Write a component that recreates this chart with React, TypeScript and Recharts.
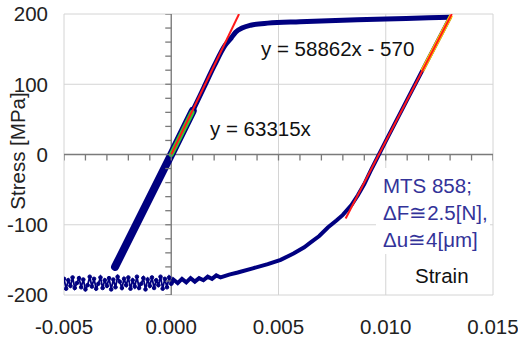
import React from 'react';
import { ComposedChart, Line, Scatter, XAxis, YAxis, CartesianGrid, ReferenceLine, Label } from 'recharts';

const xTicks = [-0.005, 0, 0.005, 0.01, 0.015];
const yTicks = [-200, -100, 0, 100, 200];
const xMinorTicks = [-0.005, -0.004, -0.003, -0.002, -0.001, 0, 0.001, 0.002, 0.003, 0.004, 0.005, 0.006, 0.007, 0.008, 0.009, 0.01, 0.011, 0.012, 0.013, 0.014, 0.015];
const yMinorTicks = [-200, -180, -160, -140, -120, -100, -80, -60, -40, -20, 0, 20, 40, 60, 80, 100, 120, 140, 160, 180, 200];

// loading branch
const loadStrain = [0, 0.0005, 0.001, 0.0015, 0.002, 0.0025, 0.0028, 0.003, 0.0033, 0.0037, 0.0045, 0.006, 0.008, 0.01, 0.012, 0.013];
const loadStress = [0, 31, 62, 94, 126, 155, 166, 174, 180, 184, 187, 189, 191, 193, 194.5, 195.5];

// thick initial / compression band
const bandStrain = [-0.00262, 0, 0.001];
const bandStress = [-160, 0, 62];

// unloading branch
const unloadStrain = [0.013, 0.012, 0.011, 0.01, 0.0095, 0.0093, 0.009, 0.0087, 0.0084, 0.008, 0.0077, 0.0073, 0.0069, 0.0065, 0.0062, 0.0057, 0.0051, 0.0045, 0.0038, 0.0031, 0.0027, 0.0023, 0.0021, 0.0019, 0.0017, 0.0015, 0.0013, 0.0011, 0.0009, 0.0007, 0.0005, 0.0003, 0.0001, 0];
const unloadStress = [195.5, 137, 78, 19, -11, -23, -42, -58, -72, -86, -94, -104, -116, -125, -132, -141, -150, -156, -162, -168, -171, -175, -172, -177, -174, -179, -176, -181, -176, -182, -177, -183, -178, -184];

// noisy compression plateau
const noiseStrain = [0, -0.0001, -0.0002, -0.0003, -0.0004, -0.0005, -0.0006, -0.0007, -0.0008, -0.0009, -0.001, -0.0011, -0.0012, -0.0013, -0.0014, -0.0015, -0.0016, -0.0017, -0.0018, -0.0019, -0.002, -0.0021, -0.0022, -0.0023, -0.0024, -0.0025, -0.0026, -0.0027, -0.0028, -0.0029, -0.003, -0.0031, -0.0032, -0.0033, -0.0034, -0.0035, -0.0036, -0.0037, -0.0038, -0.0039, -0.004, -0.0041, -0.0042, -0.0043, -0.0044, -0.0045, -0.0046, -0.0047, -0.0048, -0.0049, -0.005];
const noiseStress = [-184, -175, -189, -177, -191, -174, -186, -179, -190, -175, -187, -178, -192, -176, -184, -190, -174, -188, -179, -191, -175, -186, -177, -190, -181, -174, -189, -178, -192, -176, -187, -179, -190, -175, -184, -191, -177, -188, -174, -186, -192, -178, -189, -176, -183, -190, -175, -187, -179, -191, -177];

// fit lines
const fit1Strain = [0, 0.00316];
const fit1Stress = [0, 200];
const fit1HighlightStrain = [0, 0.00097];
const fit1HighlightStress = [0, 60];
const fit2Strain = [0.00813, 0.01308];
const fit2Stress = [-91, 200];
const fit2HighlightStrain = [0.0117, 0.01305];
const fit2HighlightStress = [119, 198];

const zip = (xs: number[], ys: number[]) => xs.map((x, i) => ({ x, y: ys[i] }));

const xMinorData = xMinorTicks.map((t) => ({ x: t, y: 0 }));
const yMinorData = yMinorTicks.map((t) => ({ x: 0, y: t }));

const font = '"Liberation Sans", Arial, sans-serif';
const navy = '#000080';
const axisGray = '#7a7a7a';

const XTickMark = (p: any) => (
  <line x1={p.cx} y1={p.cy} x2={p.cx} y2={p.cy + 6} stroke={axisGray} strokeWidth={1.3} />
);
const YTickMark = (p: any) => (
  <line x1={p.cx - 6} y1={p.cy} x2={p.cx} y2={p.cy} stroke={axisGray} strokeWidth={1.3} />
);

export default function App() {
  const tickStyle = { fontSize: 20.5, fill: '#222', fontFamily: font };
  return (
    <div style={{ position: 'absolute', left: 0, top: 0, width: 518, height: 340, background: '#fff', fontFamily: font }}>
      <ComposedChart width={518} height={340} margin={{ top: 14, right: 25, bottom: 0, left: 0 }}>
        <CartesianGrid stroke="#d4d4d4" />
        <XAxis
          type="number"
          dataKey="x"
          domain={[-0.005, 0.015]}
          ticks={xTicks}
          interval={0}
          allowDataOverflow
          tickFormatter={(v: number) => v.toFixed(3)}
          axisLine={false}
          tickLine={false}
          tickSize={0}
          tickMargin={24}
          height={45}
          tick={tickStyle}
        />
        <YAxis
          type="number"
          domain={[-200, 200]}
          ticks={yTicks}
          interval={0}
          allowDataOverflow
          axisLine={false}
          tickLine={false}
          tickSize={0}
          tickMargin={16}
          width={64}
          tick={tickStyle}
        >
          <Label
            content={() => (
              <text x={0} y={0} transform="translate(25,151) rotate(-90)" textAnchor="middle" fontSize={20.5} fill="#222" fontFamily={font}>
                Stress [MPa]
              </text>
            )}
          />
        </YAxis>
        <ReferenceLine x={0} stroke={axisGray} strokeWidth={1.3} />
        <ReferenceLine y={0} stroke={axisGray} strokeWidth={1.3} />
        <Scatter data={xMinorData} dataKey="y" shape={XTickMark} isAnimationActive={false} />
        <Scatter data={yMinorData} dataKey="y" shape={YTickMark} isAnimationActive={false} />
        <Line data={zip(noiseStrain, noiseStress)} dataKey="y" stroke={navy} strokeWidth={1.8} dot={{ r: 1.8, fill: navy, stroke: navy, strokeWidth: 1 }} isAnimationActive={false} type="linear" />
        <Line data={zip(unloadStrain, unloadStress)} dataKey="y" stroke={navy} strokeWidth={4} dot={false} isAnimationActive={false} type="linear" />
        <Line data={zip(loadStrain, loadStress)} dataKey="y" stroke={navy} strokeWidth={5} dot={false} isAnimationActive={false} type="monotone" />
        <Line data={zip(bandStrain, bandStress)} dataKey="y" stroke={navy} strokeWidth={8} strokeLinecap="round" dot={false} isAnimationActive={false} type="linear" />
        <Line data={zip(fit2HighlightStrain, fit2HighlightStress)} dataKey="y" stroke="#ffd400" strokeWidth={4} dot={false} isAnimationActive={false} type="linear" />
        <Line data={zip(fit1HighlightStrain, fit1HighlightStress)} dataKey="y" stroke="#33cc33" strokeWidth={5} strokeLinecap="round" dot={false} isAnimationActive={false} type="linear" />
        <Line data={zip(fit1Strain, fit1Stress)} dataKey="y" stroke="#ff1a1a" strokeWidth={2} dot={false} isAnimationActive={false} type="linear" />
        <Line data={zip(fit2Strain, fit2Stress)} dataKey="y" stroke="#ff1a1a" strokeWidth={2} dot={false} isAnimationActive={false} type="linear" />
      </ComposedChart>
      <div style={{ position: 'absolute', left: 261, top: 36.5, fontSize: 20.5, color: '#111', whiteSpace: 'nowrap', lineHeight: 'normal' }}>y = 58862x - 570</div>
      <div style={{ position: 'absolute', left: 210, top: 116.5, fontSize: 20.5, color: '#111', whiteSpace: 'nowrap', lineHeight: 'normal' }}>y = 63315x</div>
      <div style={{ position: 'absolute', left: 376, top: 168, width: 107, paddingLeft: 7, paddingTop: 4.4, height: 82, background: '#fff', fontSize: 20.5, color: '#333399', whiteSpace: 'nowrap', lineHeight: '27px' }}>
        <div>MTS 858;</div>
        <div>ΔF≅2.5[N],</div>
        <div>Δu≅4[μm]</div>
      </div>
      <div style={{ position: 'absolute', left: 415, top: 263.5, fontSize: 20.5, color: '#111', whiteSpace: 'nowrap', lineHeight: 'normal' }}>Strain</div>
    </div>
  );
}
